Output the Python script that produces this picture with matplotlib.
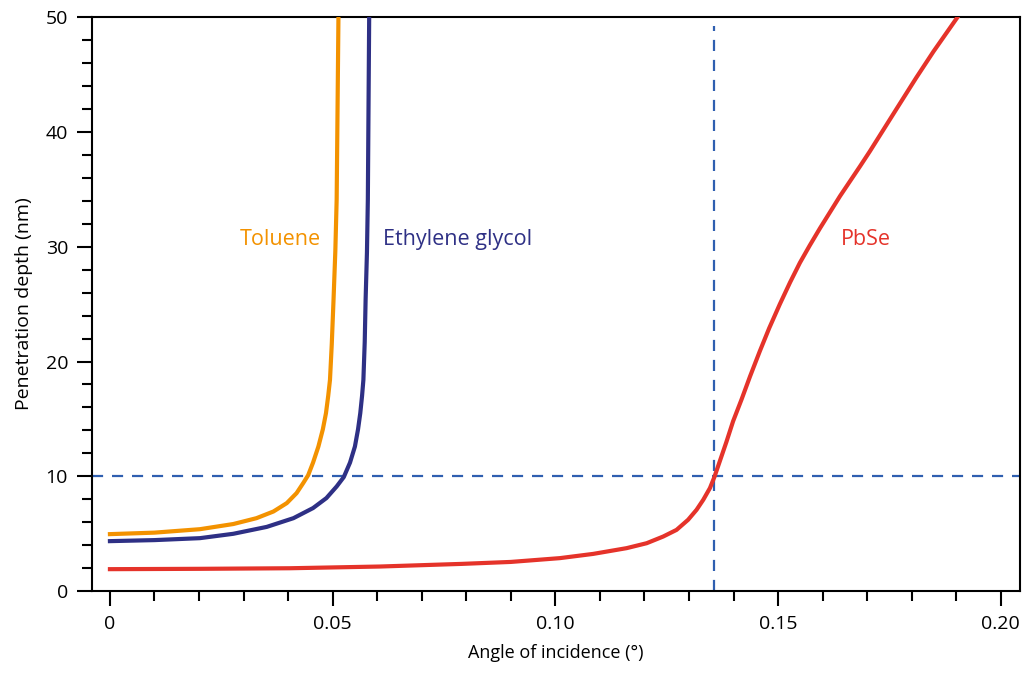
import matplotlib
matplotlib.use('Agg')
import matplotlib.pyplot as plt
from matplotlib.ticker import MultipleLocator

plt.rcParams['font.family'] = ['Open Sans', 'DejaVu Sans']

# Data
tol_x = [0, 0.0100, 0.0202, 0.0277, 0.0329, 0.0367, 0.0397, 0.0419, 0.0434, 0.0445,
         0.0456, 0.0468, 0.0478, 0.0485, 0.0490, 0.0494, 0.0498, 0.0502, 0.0506, 0.0509, 0.0513]
tol_y = [4.97, 5.1, 5.4, 5.85, 6.36, 6.94, 7.67, 8.54, 9.42, 10.1,
         11.2, 12.6, 14.1, 15.5, 17.0, 18.4, 21.5, 25.4, 29.6, 34.1, 50]

eg_x = [0, 0.0100, 0.0202, 0.0277, 0.0352, 0.0412, 0.0456, 0.0486, 0.0509, 0.0525,
        0.0539, 0.0550, 0.0557, 0.0562, 0.0566, 0.0569, 0.0572, 0.0574, 0.0577, 0.0579, 0.0582]
eg_y = [4.36, 4.45, 4.62, 5.0, 5.6, 6.36, 7.24, 8.11, 9.12, 9.94,
        11.2, 12.6, 14.1, 15.5, 17.0, 18.4, 21.7, 25.4, 29.5, 34.1, 50]

pbse_x = [0, 0.0202, 0.0404, 0.0606, 0.0790, 0.0900, 0.1010, 0.1085, 0.1160, 0.1205,
          0.1242, 0.1272, 0.1298, 0.1317, 0.1332, 0.1347, 0.1357, 0.1369, 0.1384, 0.1399,
          0.1418, 0.1437, 0.1459, 0.1480, 0.1504, 0.1527, 0.1549, 0.1571, 0.1594, 0.1639,
          0.1684, 0.1706, 0.1766, 0.1810, 0.1849, 0.1905]
pbse_y = [1.92, 1.95, 2.0, 2.15, 2.38, 2.55, 2.88, 3.25, 3.75, 4.18,
          4.76, 5.34, 6.22, 7.09, 7.96, 8.98, 9.94, 11.3, 13.0, 14.8,
          16.7, 18.7, 20.9, 22.9, 25.0, 26.9, 28.6, 30.1, 31.6, 34.4,
          37.0, 38.3, 42.0, 44.7, 47.0, 50.1]

depth_ref = 10
angle_ref = 0.1356

xticks = [0, 0.05, 0.10, 0.15, 0.20]
xticklabels = ['0', '0.05', '0.10', '0.15', '0.20']
yticks = [0, 10, 20, 30, 40, 50]

orange = '#F39200'
navy = '#2E3085'
red = '#E5332A'
dash = '#2F5FB0'

fig = plt.figure(figsize=(10.22, 6.78), dpi=100)
ax = fig.add_axes([0.0897, 0.128, 0.9083, 0.847])

ax.axhline(depth_ref, color=dash, lw=1.6, ls=(0, (5, 4)), zorder=1)
ax.axvline(angle_ref, ymax=0.985, color=dash, lw=1.6, ls=(0, (5, 4)), zorder=1)

ax.plot(tol_x, tol_y, color=orange, lw=3, solid_joinstyle='round', zorder=3)
ax.plot(eg_x, eg_y, color=navy, lw=3, solid_joinstyle='round', zorder=3)
ax.plot(pbse_x, pbse_y, color=red, lw=3, solid_joinstyle='round', zorder=3)

ax.text(0.0382, 30.6, 'Toluene', color=orange, fontsize=15.5, ha='center', va='center')
ax.text(0.0781, 30.6, 'Ethylene glycol', color=navy, fontsize=15.5, ha='center', va='center')
ax.text(0.1697, 30.6, 'PbSe', color=red, fontsize=15.5, ha='center', va='center')

ax.set_xlim(-0.0041, 0.2043)
ax.set_ylim(0, 50)
ax.set_xticks(xticks)
ax.set_xticklabels(xticklabels)
ax.set_yticks(yticks)
ax.xaxis.set_minor_locator(MultipleLocator(0.01))
ax.yaxis.set_minor_locator(MultipleLocator(2))

ax.tick_params(which='major', direction='out', length=11, width=1.5, labelsize=14, pad=6)
ax.tick_params(which='minor', direction='out', length=7, width=1.5)
for s in ax.spines.values():
    s.set_linewidth(1.5)

ax.set_xlabel('Angle of incidence (°)', fontsize=13, labelpad=8)
ax.set_ylabel('Penetration depth (nm)', fontsize=14, labelpad=9)

plt.savefig('out.png', dpi=100)
